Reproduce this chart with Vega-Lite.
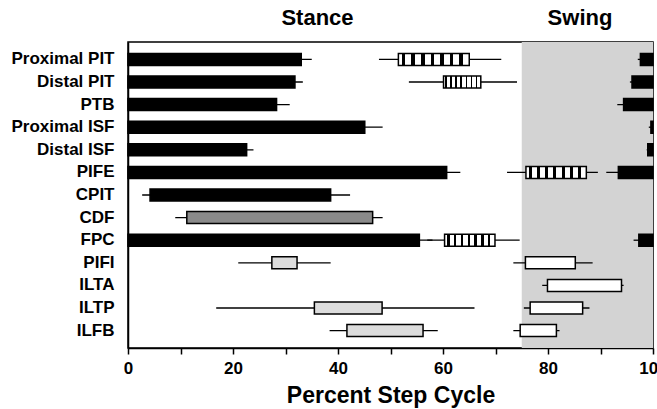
{
  "$schema": "https://vega.github.io/schema/vega-lite/v6.json",
  "width": 525,
  "height": 306,
  "autosize": {"type": "none"},
  "padding": {"left": 128, "top": 42, "right": 4, "bottom": 61},
  "background": "white",
  "config": {
    "view": {"stroke": "black", "strokeWidth": 1.5},
    "font": "Liberation Sans",
    "axis": {"grid": false, "labelFont": "Liberation Sans", "titleFont": "Liberation Sans", "labelFontWeight": "bold", "titleFontWeight": "bold", "labelColor": "black", "titleColor": "black", "domainColor": "black", "tickColor": "black", "domainWidth": 1.5}
  },
  "datasets": {
    "bars": [
      {"task": "Proximal PIT", "start": 0, "end": 33.0, "lo": 0, "hi": 35.0, "type": "black"},
      {"task": "Proximal PIT", "start": 51.5, "end": 65.0, "lo": 47.8, "hi": 71.1, "type": "hatched"},
      {"task": "Proximal PIT", "start": 97.6, "end": 100, "lo": 97.1, "hi": 100, "type": "black"},
      {"task": "Distal PIT", "start": 0, "end": 31.8, "lo": 0, "hi": 33.3, "type": "black"},
      {"task": "Distal PIT", "start": 60.1, "end": 67.2, "lo": 53.5, "hi": 74.1, "type": "hatched"},
      {"task": "Distal PIT", "start": 96.0, "end": 100, "lo": 95.6, "hi": 100, "type": "black"},
      {"task": "PTB", "start": 0, "end": 28.3, "lo": 0, "hi": 30.8, "type": "black"},
      {"task": "PTB", "start": 94.4, "end": 100, "lo": 93.2, "hi": 100, "type": "black"},
      {"task": "Proximal ISF", "start": 0, "end": 45.1, "lo": 0, "hi": 48.5, "type": "black"},
      {"task": "Proximal ISF", "start": 99.6, "end": 100, "lo": 99.2, "hi": 100, "type": "black"},
      {"task": "Distal ISF", "start": 0, "end": 22.6, "lo": 0, "hi": 23.9, "type": "black"},
      {"task": "Distal ISF", "start": 99.0, "end": 100, "lo": 98.8, "hi": 100, "type": "black"},
      {"task": "PIFE", "start": 0, "end": 60.7, "lo": 0, "hi": 63.3, "type": "black"},
      {"task": "PIFE", "start": 75.8, "end": 87.3, "lo": 72.2, "hi": 89.5, "type": "hatched"},
      {"task": "PIFE", "start": 93.4, "end": 100, "lo": 91.1, "hi": 100, "type": "black"},
      {"task": "CPIT", "start": 4.2, "end": 38.6, "lo": 2.7, "hi": 42.3, "type": "black"},
      {"task": "CDF", "start": 11.2, "end": 46.6, "lo": 9.0, "hi": 48.5, "type": "dark"},
      {"task": "FPC", "start": 0, "end": 55.5, "lo": 0, "hi": 58.0, "type": "black"},
      {"task": "FPC", "start": 60.3, "end": 69.9, "lo": 57.0, "hi": 74.6, "type": "hatched"},
      {"task": "FPC", "start": 97.3, "end": 100, "lo": 96.3, "hi": 100, "type": "black"},
      {"task": "PIFI", "start": 27.4, "end": 32.2, "lo": 21.0, "hi": 38.6, "type": "light"},
      {"task": "PIFI", "start": 75.7, "end": 85.2, "lo": 73.4, "hi": 88.5, "type": "white"},
      {"task": "ILTA", "start": 79.9, "end": 94.0, "lo": 78.9, "hi": 94.4, "type": "white"},
      {"task": "ILTP", "start": 35.5, "end": 48.4, "lo": 16.8, "hi": 66.0, "type": "light"},
      {"task": "ILTP", "start": 76.6, "end": 86.6, "lo": 75.4, "hi": 87.9, "type": "white"},
      {"task": "ILFB", "start": 41.7, "end": 56.2, "lo": 38.4, "hi": 59.0, "type": "light"},
      {"task": "ILFB", "start": 74.7, "end": 81.6, "lo": 73.4, "hi": 82.2, "type": "white"}
    ],
    "phases": [
      {"phase": "Swing", "from": 75, "to": 100}
    ]
  },
  "resolve": {"axis": {"x": "independent"}},
  "layer": [
    {
      "data": {"name": "phases"},
      "mark": {"type": "rect", "fill": "#d3d3d3"},
      "encoding": {
        "x": {"field": "from", "type": "quantitative", "scale": {"domain": [0, 100], "nice": false, "zero": false},
          "axis": {"orient": "top", "values": [36, 86], "labelExpr": "datum.value < 50 ? 'Stance' : 'Swing'", "ticks": false, "domain": false, "labelFontSize": 22, "labelPadding": 13, "labelFlush": false, "title": null}},
        "x2": {"field": "to"}
      }
    },
    {
      "data": {"name": "bars"},
      "mark": {"type": "rule", "color": "black", "strokeWidth": 1.3},
      "encoding": {
        "x": {"field": "lo", "type": "quantitative",
          "axis": {"orient": "bottom", "values": [0, 10, 20, 30, 40, 50, 60, 70, 80, 90, 100], "labelExpr": "datum.value % 20 == 0 ? datum.label : ''", "labelFlush": false, "labelOverlap": false, "tickSize": 6, "tickWidth": 1.5, "labelFontSize": 17, "labelPadding": 6, "title": "Percent Step Cycle", "titleFontSize": 23, "titlePadding": 8}},
        "x2": {"field": "hi"},
        "y": {"field": "task", "type": "nominal",
          "scale": {"domain": ["Proximal PIT", "Distal PIT", "PTB", "Proximal ISF", "Distal ISF", "PIFE", "CPIT", "CDF", "FPC", "PIFI", "ILTA", "ILTP", "ILFB"], "paddingInner": 0, "paddingOuter": 0.27},
          "axis": {"title": null, "ticks": false, "labelFontSize": 17, "labelPadding": 14}}
      }
    },
    {
      "data": {"name": "bars"},
      "transform": [{"filter": "datum.type != 'hatched'"}],
      "mark": {"type": "bar", "height": {"band": 0.53}, "stroke": "black", "strokeWidth": 1.5},
      "encoding": {
        "x": {"field": "start", "type": "quantitative", "axis": null},
        "x2": {"field": "end"},
        "y": {"field": "task", "type": "nominal"},
        "fill": {"field": "type", "type": "nominal", "legend": null,
          "scale": {"domain": ["black", "dark", "light", "white"], "range": ["#000000", "#8a8a8a", "#dcdcdc", "#ffffff"]}}
      }
    },
    {
      "data": {"name": "bars"},
      "transform": [{"filter": "datum.type == 'hatched'"}],
      "mark": {"type": "bar", "height": {"band": 0.53}, "stroke": "black", "strokeWidth": 1.5,
        "fill": {"gradient": "linear", "x1": 0, "y1": 0, "x2": 1, "y2": 0, "stops": [
          {"offset": 0, "color": "white"}, {"offset": 0.05, "color": "white"}, {"offset": 0.05, "color": "black"}, {"offset": 0.1, "color": "black"},
          {"offset": 0.1, "color": "white"}, {"offset": 0.185, "color": "white"}, {"offset": 0.185, "color": "black"}, {"offset": 0.235, "color": "black"},
          {"offset": 0.235, "color": "white"}, {"offset": 0.32, "color": "white"}, {"offset": 0.32, "color": "black"}, {"offset": 0.37, "color": "black"},
          {"offset": 0.37, "color": "white"}, {"offset": 0.455, "color": "white"}, {"offset": 0.455, "color": "black"}, {"offset": 0.505, "color": "black"},
          {"offset": 0.505, "color": "white"}, {"offset": 0.59, "color": "white"}, {"offset": 0.59, "color": "black"}, {"offset": 0.64, "color": "black"},
          {"offset": 0.64, "color": "white"}, {"offset": 0.725, "color": "white"}, {"offset": 0.725, "color": "black"}, {"offset": 0.775, "color": "black"},
          {"offset": 0.775, "color": "white"}, {"offset": 0.86, "color": "white"}, {"offset": 0.86, "color": "black"}, {"offset": 0.91, "color": "black"},
          {"offset": 0.91, "color": "white"}, {"offset": 1, "color": "white"}
        ]}},
      "encoding": {
        "x": {"field": "start", "type": "quantitative", "axis": null},
        "x2": {"field": "end"},
        "y": {"field": "task", "type": "nominal"}
      }
    }
  ]
}
